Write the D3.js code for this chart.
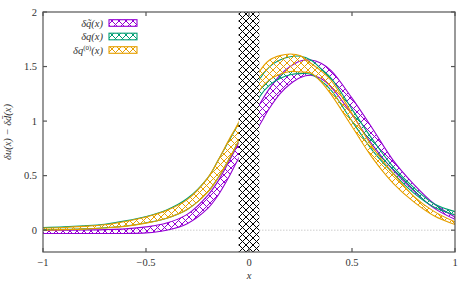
<!DOCTYPE html>
<html><head><meta charset="utf-8">
<script src="https://cdn.jsdelivr.net/npm/d3@7"></script>
<style>body{margin:0;background:#fff}svg{display:block}</style>
</head><body><svg id="c" width="473" height="284" font-family="Liberation Serif, Times New Roman, Times, DejaVu Serif, serif"></svg>
<script>
const xs = [-1,-0.9,-0.8,-0.7,-0.6,-0.5,-0.4,-0.3,-0.2,-0.15,-0.1,-0.05,0,0.05,0.1,0.15,0.2,0.25,0.3,0.35,0.4,0.5,0.6,0.7,0.8,0.9,1.0];
// delta q-tilde (purple)
const pHi = [0.0,0.0,0.002,0.005,0.012,0.03,0.065,0.145,0.32,0.45,0.62,0.80,0.98,1.15,1.30,1.42,1.50,1.55,1.56,1.53,1.46,1.21,0.93,0.64,0.42,0.24,0.12];
const pLo = [-0.03,-0.03,-0.03,-0.03,-0.03,-0.025,0.0,0.06,0.2,0.32,0.48,0.66,0.81,0.96,1.12,1.25,1.34,1.40,1.42,1.39,1.31,1.06,0.78,0.55,0.36,0.20,0.10];
// delta q (green)
const gHi = [0.025,0.03,0.04,0.055,0.085,0.125,0.185,0.29,0.48,0.64,0.81,0.98,1.17,1.38,1.50,1.56,1.59,1.595,1.56,1.48,1.39,1.11,0.83,0.58,0.39,0.24,0.17];
const gLo = [0.005,0.008,0.012,0.022,0.038,0.068,0.11,0.19,0.35,0.48,0.64,0.82,1.02,1.22,1.33,1.39,1.425,1.435,1.43,1.37,1.28,1.00,0.73,0.52,0.34,0.21,0.14];
// delta q^(0) (orange)
const oHi = [0.02,0.025,0.035,0.05,0.08,0.12,0.18,0.28,0.48,0.64,0.82,0.99,1.22,1.45,1.56,1.60,1.615,1.60,1.53,1.46,1.37,1.07,0.76,0.52,0.31,0.17,0.076];
const oLo = [0.0,0.005,0.01,0.02,0.035,0.065,0.11,0.19,0.35,0.48,0.64,0.82,1.05,1.28,1.38,1.43,1.455,1.45,1.44,1.36,1.24,0.95,0.66,0.43,0.26,0.13,0.052];
const xTicks = [-1,-0.5,0,0.5,1];
const yTicks = [0,0.5,1,1.5,2];
const seriesNames = ["δq̃(x)","δq(x)","δq(0)(x)"];
const colors = ["#9400d3","#009e73","#e69f00"];
const boxRange = [-0.05,0.05];

const svg = d3.select("#c");
const L=43,R=455,T=12,B=252;
const x = d3.scaleLinear().domain([-1,1]).range([L,R]);
const y = d3.scaleLinear().domain([-0.2,2]).range([B,T]);
const defs = svg.append("defs");
const W=7;
colors.forEach((c,i)=>{
  const p = defs.append("pattern").attr("id","h"+i).attr("patternUnits","userSpaceOnUse")
    .attr("width",W).attr("height",W);
  p.append("path").attr("d",`M0,0L${W},${W}M${W},0L0,${W}M-1,${W-1}L1,${W+1}M${W-1},-1L${W+1},1`)
    .attr("stroke",c).attr("stroke-width",1).attr("fill","none").attr("shape-rendering","crispEdges");
});
const BW=7;
const pb = defs.append("pattern").attr("id","hb").attr("patternUnits","userSpaceOnUse")
  .attr("width",BW).attr("height",BW).attr("x",Math.round(x(0))-3).attr("y",0);
pb.append("rect").attr("width",BW).attr("height",BW).attr("fill","#fff");
pb.append("path").attr("d",`M0,0L${BW},${BW}M${BW},0L0,${BW}M-1,${BW-1}L1,${BW+1}M${BW-1},-1L${BW+1},1`)
  .attr("stroke","#000").attr("stroke-width",1).attr("fill","none").attr("shape-rendering","crispEdges");
defs.append("clipPath").attr("id","clip").append("rect").attr("x",L).attr("y",T).attr("width",R-L).attr("height",B-T);

const g = svg.append("g").attr("clip-path","url(#clip)");
g.append("line").attr("x1",L).attr("x2",R).attr("y1",y(0)).attr("y2",y(0))
  .attr("stroke","#aaa").attr("stroke-width",0.6).attr("stroke-dasharray","1.5,1.5");

const curve = d3.curveCatmullRom.alpha(0.5);
const bands = [[pHi,pLo],[gHi,gLo],[oHi,oLo]];
bands.forEach((b,i)=>{
  const d = xs.map((v,k)=>({x:v,hi:b[0][k],lo:b[1][k]}));
  g.append("path").datum(d).attr("fill","url(#h"+i+")")
    .attr("d",d3.area().x(p=>x(p.x)).y0(p=>y(p.lo)).y1(p=>y(p.hi)).curve(curve));
  ["hi","lo"].forEach(key=>{
    g.append("path").datum(d).attr("fill","none").attr("stroke",colors[i]).attr("stroke-width",1.1)
      .attr("d",d3.line().x(p=>x(p.x)).y(p=>y(p[key])).curve(curve));
  });
});
g.append("rect").attr("x",x(boxRange[0])).attr("width",x(boxRange[1])-x(boxRange[0]))
  .attr("y",T).attr("height",B-T).attr("fill","url(#hb)");

const ax = svg.append("g").attr("stroke","#555").attr("stroke-width",1.2);
ax.append("rect").attr("x",L).attr("y",T).attr("width",R-L).attr("height",B-T).attr("fill","none");
xTicks.forEach(t=>{
  ax.append("line").attr("x1",x(t)).attr("x2",x(t)).attr("y1",B).attr("y2",B-4);
  ax.append("line").attr("x1",x(t)).attr("x2",x(t)).attr("y1",T).attr("y2",T+4);
});
yTicks.forEach(t=>{
  ax.append("line").attr("x1",L).attr("x2",L+4).attr("y1",y(t)).attr("y2",y(t));
  ax.append("line").attr("x1",R).attr("x2",R-4).attr("y1",y(t)).attr("y2",y(t));
});
const fmt = v => (v<0?"−":"")+String(Math.abs(v));
svg.append("g").selectAll("text").data(xTicks).join("text")
  .attr("x",d=>x(d)).attr("y",B+14).attr("text-anchor","middle")
  .attr("font-size",10.5).attr("fill","#333").text(fmt);
svg.append("g").selectAll("text").data(yTicks).join("text")
  .attr("x",L-6).attr("y",d=>y(d)+3.5).attr("text-anchor","end")
  .attr("font-size",10.5).attr("fill","#333").text(fmt);
svg.append("text").attr("x",(L+R)/2).attr("y",B+27).attr("text-anchor","middle")
  .attr("font-style","italic").attr("font-size",10.5).attr("fill","#333").text("x");
svg.append("text").attr("transform",`translate(11,${(T+B)/2}) rotate(-90)`).attr("text-anchor","middle")
  .attr("font-style","italic").attr("font-size",10.5).attr("fill","#333").text("δu(x) − δd̄(x)");

const ly=[23,36.5,50];
seriesNames.forEach((n,i)=>{
  const t = svg.append("text").attr("x",103).attr("y",ly[i]+3.5).attr("text-anchor","end")
    .attr("font-style","italic").attr("font-size",10.5).attr("fill","#333");
  if(i===2){
    t.append("tspan").text("δq");
    t.append("tspan").attr("dy",-4).attr("font-size",7).attr("font-style","normal").text("(0)");
    t.append("tspan").attr("dy",4).text("(x)");
  } else t.text(n);
  svg.append("rect").attr("x",109).attr("y",ly[i]-3.3).attr("width",28).attr("height",6.6)
    .attr("fill","url(#h"+i+")").attr("stroke",colors[i]).attr("stroke-width",1.1);
});
</script></body></html>
